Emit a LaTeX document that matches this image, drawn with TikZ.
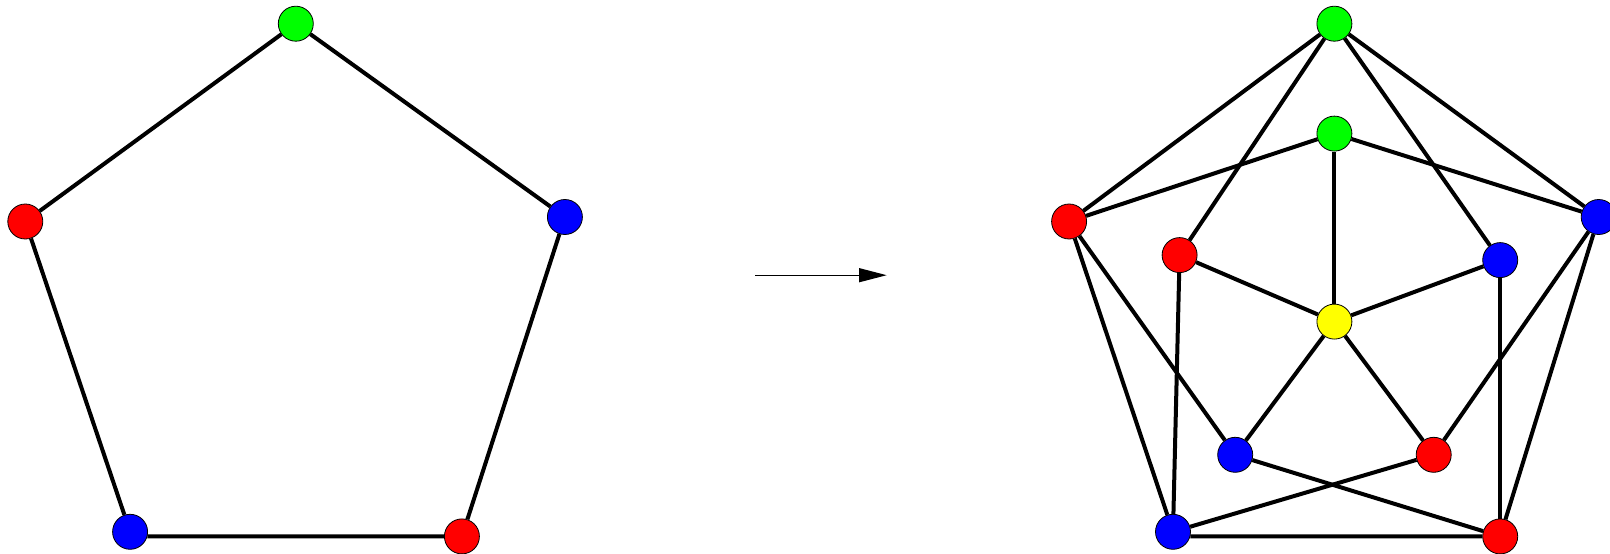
\documentclass[tikz,border=0pt]{standalone}
\usepackage{tikz}
\usetikzlibrary{arrows.meta}
\definecolor{vgreen}{RGB}{0,255,0}
\definecolor{vred}{RGB}{255,0,0}
\definecolor{vblue}{RGB}{0,0,255}
\definecolor{vyellow}{RGB}{255,255,0}
\begin{document}
\begin{tikzpicture}[x=1pt,y=-1pt]
\tikzstyle{vert}=[circle,draw=black,line width=0.8pt,minimum size=35pt,inner sep=0pt]
\tikzstyle{edge}=[line width=4pt,black]
\useasboundingbox (0,0) rectangle (1610,554);

% pentagon C5
\node[vert,fill=vgreen] (a1) at (295.8,23.7) {};
\node[vert,fill=vblue] (a2) at (564.9,217) {};
\node[vert,fill=vred] (a3) at (461.9,536.4) {};
\node[vert,fill=vblue] (a4) at (130.1,531.8) {};
\node[vert,fill=vred] (a5) at (25.3,221.5) {};
\draw[edge] (a1)--(a2); \draw[edge] (a2)--(a3); \draw[edge] (a4.-15)--(a3); \draw[edge] (a4)--(a5); \draw[edge] (a5)--(a1);

% arrow
\coordinate (p0) at (755,275.2);
\coordinate (p1) at (886.7,275.2);
\draw[line width=1.3pt,-{Triangle[length=27.7pt,width=14pt]}] (p0)--(p1);

% Mycielski graph
\node[vert,fill=vgreen] (o1) at (1334.4,23.7) {};
\node[vert,fill=vblue] (o2) at (1598.7,217) {};
\node[vert,fill=vred] (o3) at (1500.2,536.4) {};
\node[vert,fill=vblue] (o4) at (1173,531.8) {};
\node[vert,fill=vred] (o5) at (1069.1,221.5) {};
\node[vert,fill=vgreen] (i1) at (1334.4,133.6) {};
\node[vert,fill=vblue] (i2) at (1500.2,260.1) {};
\node[vert,fill=vred] (i3) at (1433.7,454.8) {};
\node[vert,fill=vblue] (i4) at (1235.2,454.8) {};
\node[vert,fill=vred] (i5) at (1179.6,255.1) {};
\node[vert,fill=vyellow] (c) at (1334.4,321.6) {};

\draw[edge] (o1)--(o2); \draw[edge] (o2)--(o3); \draw[edge] (o4.-15)--(o3); \draw[edge] (o4)--(o5); \draw[edge] (o5)--(o1);
\draw[edge] (i1)--(o5); \draw[edge] (i1)--(o2);
\draw[edge] (i2)--(o1); \draw[edge] (i2)--(o3);
\draw[edge] (i3)--(o2); \draw[edge] (i3)--(o4);
\draw[edge] (i4)--(o3); \draw[edge] (i4)--(o5);
\draw[edge] (i5)--(o4); \draw[edge] (i5)--(o1);
\draw[edge] (c)--(i1); \draw[edge] (c)--(i2); \draw[edge] (c)--(i3); \draw[edge] (c)--(i4); \draw[edge] (c)--(i5);
\end{tikzpicture}
\end{document}
